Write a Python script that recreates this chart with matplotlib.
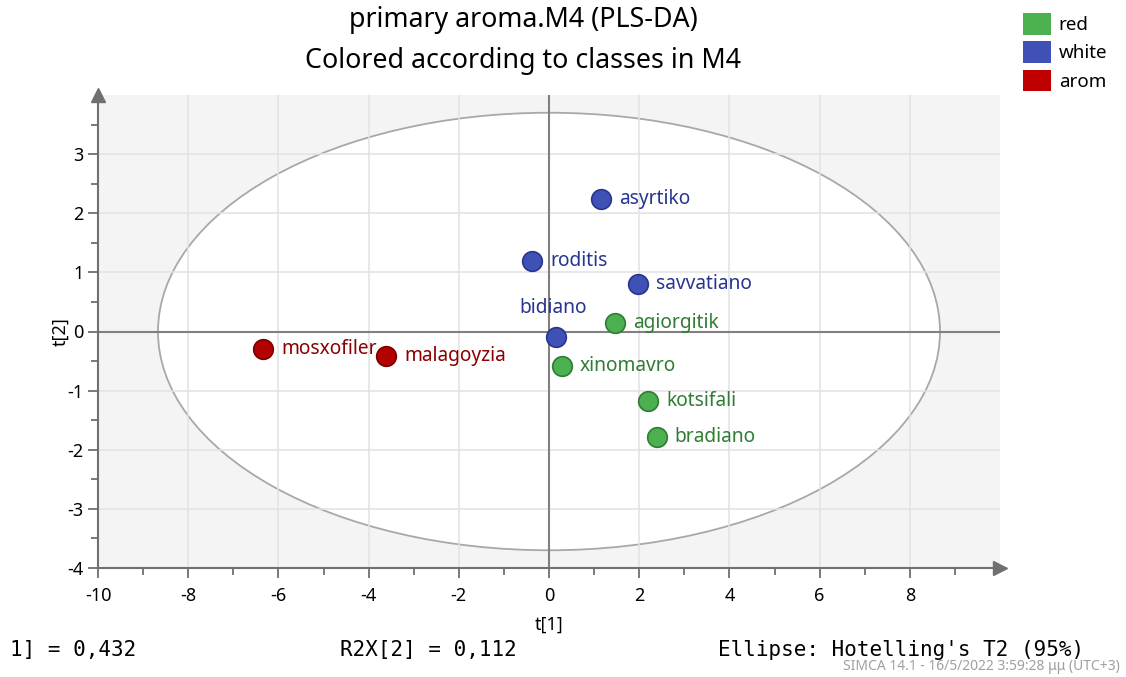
import numpy as np
import matplotlib
matplotlib.use("Agg")
import matplotlib.pyplot as plt
from matplotlib.patches import Ellipse, Patch

plt.rcParams['font.family'] = ['Noto Sans', 'DejaVu Sans']
plt.rcParams['axes.unicode_minus'] = False

# scores t[1], t[2] per sample
names = ['asyrtiko', 'roditis', 'savvatiano', 'bidiano', 'agiorgitik',
         'xinomavro', 'kotsifali', 'bradiano', 'mosxofiler', 'malagoyzia']
t1 = [1.15, -0.38, 1.97, 0.16, 1.46, 0.29, 2.20, 2.39, -6.34, -3.61]
t2 = [2.24, 1.20, 0.80, -0.10, 0.15, -0.59, -1.17, -1.78, -0.29, -0.41]
classes = ['white', 'white', 'white', 'white', 'red',
           'red', 'red', 'red', 'arom', 'arom']

class_names = ['red', 'white', 'arom']
# Hotelling's T2 (95%) ellipse semi-axes
ell_a = 8.67
ell_b = 3.70

r2x = [0.432, 0.112]

face = {'red': '#4caf50', 'white': '#3f51b5', 'arom': '#b30000'}
edge = {'red': '#2e7d32', 'white': '#26358f', 'arom': '#7a0000'}
txtc = {'red': '#2e7d32', 'white': '#26358f', 'arom': '#8b0000'}
legc = {'red': '#4caf50', 'white': '#3f51b5', 'arom': '#c00000'}

fig = plt.figure(figsize=(11.26, 6.77), dpi=100)
ax = fig.add_axes([98/1126, 1 - 568/677, 902/1126, 473/677])
ax.set_facecolor('#f4f4f4')
ax.set_xlim(-10, 10)
ax.set_ylim(-4, 4)

ax.add_patch(Ellipse((0, 0), 2*ell_a, 2*ell_b, facecolor='white',
                     edgecolor='#a8a8a8', lw=1.3, zorder=0.3))

ax.set_xticks(np.arange(-10, 9, 2))
ax.set_xticks(np.arange(-9, 10, 2), minor=True)
ax.set_yticks(np.arange(-4, 4, 1))
ax.set_yticks(np.arange(-3.5, 4, 1), minor=True)
ax.set_axisbelow(True)
ax.grid(True, which='major', color='#e2e2e2', lw=1.1)

for s in ['top', 'right']:
    ax.spines[s].set_visible(False)
for s in ['left', 'bottom']:
    ax.spines[s].set_color('#707070')
    ax.spines[s].set_linewidth(1.5)
ax.tick_params(which='both', colors='#707070', labelcolor='black',
               labelsize=13, width=1.3)
ax.tick_params(which='major', length=7)
ax.tick_params(which='minor', length=5)
ax.tick_params(axis='x', which='major', pad=7)

# axis arrows
ax.plot(0, 1, '^', ms=10, color='#707070', transform=ax.transAxes,
        clip_on=False, zorder=5)
ax.plot(1, 0, '>', ms=10, color='#707070', transform=ax.transAxes,
        clip_on=False, zorder=5)

ax.axhline(0, color='#808080', lw=1.5, zorder=0.6)
ax.axvline(0, color='#808080', lw=1.5, zorder=0.6)

for n, x, y, c in zip(names, t1, t2, classes):
    ax.scatter(x, y, s=200, color=face[c], edgecolors=edge[c], lw=1.2, zorder=3)
    if n == 'bidiano':
        ax.annotate(n, (x, y), xytext=(-2, 21), textcoords='offset points',
                    ha='center', va='center', fontsize=13.8, color=txtc[c])
    else:
        ax.annotate(n, (x, y), xytext=(13, 0), textcoords='offset points',
                    ha='left', va='center', fontsize=13.8, color=txtc[c])

ax.set_xlabel('t[1]', fontsize=13)
ax.set_ylabel('t[2]', fontsize=13)
ax.xaxis.set_label_coords(0.5, -57/473, transform=ax.transAxes)
ax.yaxis.set_label_coords(-38/902, 0.5, transform=ax.transAxes)
ax.xaxis.label.set_va('center')
ax.yaxis.label.set_va('center')

fig.text(523/1126, 1 - 20/677, 'primary aroma.M4 (PLS-DA)', ha='center',
         va='center', fontsize=19.3)
fig.text(523/1126, 1 - 61/677, 'Colored according to classes in M4',
         ha='center', va='center', fontsize=19.3)

fig.legend(handles=[Patch(facecolor=legc[c], edgecolor='none', label=c)
                    for c in class_names],
           loc='upper left', bbox_to_anchor=(1010/1126, 1.0), frameon=False,
           fontsize=13.5, handlelength=1.5, handleheight=1.4, labelspacing=0.35,
           handletextpad=0.4, borderaxespad=0.3)

mono = 'DejaVu Sans Mono'
fig.text(10/1126, 1 - 650/677, '1] = %s' % f'{r2x[0]:.3f}'.replace('.', ','),
         family=mono, fontsize=15, va='center')
fig.text(340/1126, 1 - 650/677, 'R2X[2] = %s' % f'{r2x[1]:.3f}'.replace('.', ','),
         family=mono, fontsize=15, va='center')
fig.text(718/1126, 1 - 650/677, "Ellipse: Hotelling's T2 (95%)",
         family=mono, fontsize=15, va='center')
fig.text(1120/1126, 1 - 666/677, 'SIMCA 14.1 - 16/5/2022 3:59:28 μμ (UTC+3)',
         ha='right', va='center', fontsize=10, color='#a0a0a0')

fig.savefig('out.png', dpi=100)
